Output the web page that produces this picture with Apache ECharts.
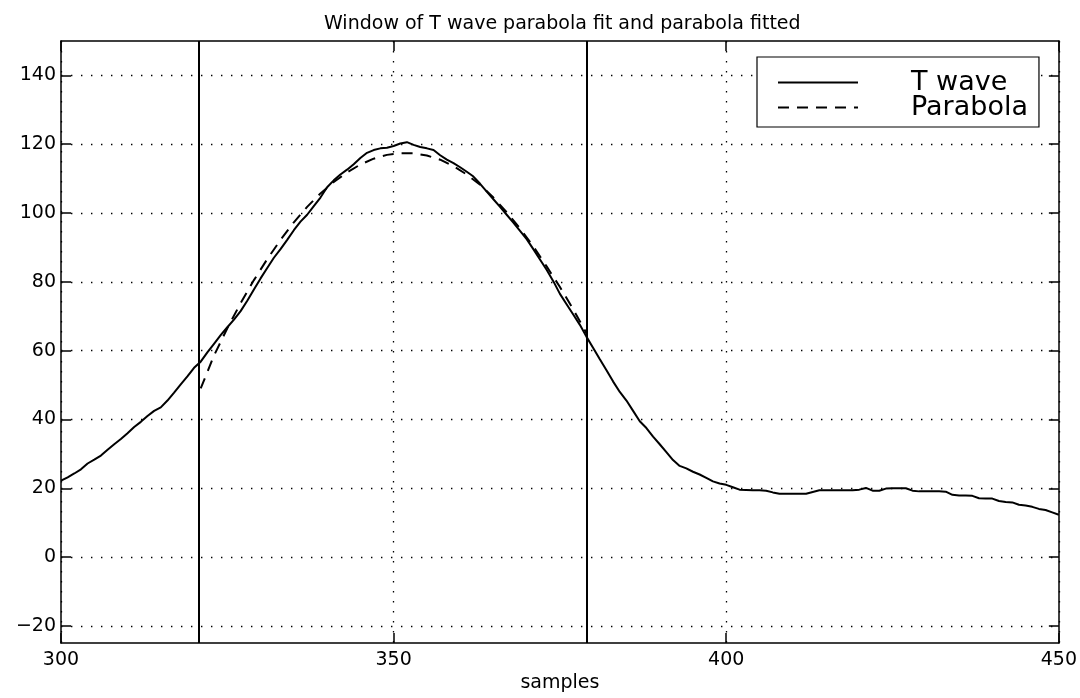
<!DOCTYPE html>
<html>
<head>
<meta charset="utf-8">
<script src="https://cdn.jsdelivr.net/npm/echarts@6/dist/echarts.min.js"></script>
<style>html,body{margin:0;padding:0;background:#fff;}#c{width:1080px;height:698px;}</style>
</head>
<body>
<div id="c"></div>
<script>
// ---- data ----
const titleText = 'Window of T wave parabola fit and parabola fitted';
const xName = 'samples';
const seriesNames = ['T wave', 'Parabola'];
const xTicks = [300, 350, 400, 450];
const yTicks = [-20, 0, 20, 40, 60, 80, 100, 120, 140];
const windowBounds = [320.7, 379.1];

// T wave, one value per sample starting at sample 300
const tWaveStart = 300;
const tWave = [
  22.2, 23.2, 24.3, 25.5, 27.2, 28.3, 29.5, 31.2, 32.8, 34.3,
  36.0, 37.8, 39.3, 41.0, 42.5, 43.5, 45.5, 47.8, 50.2, 52.5,
  55.0, 56.8, 59.5, 62.0, 64.5, 66.8, 69.0, 71.5, 74.5, 77.8,
  81.0, 84.0, 87.0, 89.5, 92.2, 95.0, 97.5, 99.5, 102.0, 104.5,
  107.5, 109.5, 111.2, 112.6, 114.2, 116.0, 117.5, 118.3, 118.8, 119.0,
  119.5, 120.2, 120.6, 119.8, 119.2, 118.8, 118.3, 116.8, 115.5, 114.5,
  113.3, 112.0, 110.6, 108.5, 106.2, 104.0, 101.8, 99.5, 97.2, 94.8,
  92.4, 89.5, 86.5, 83.5, 80.2, 76.5, 73.5, 70.5, 67.5, 64.0,
  60.8, 57.5, 54.3, 51.0, 48.0, 45.5, 42.5, 39.5, 37.5, 35.0,
  32.8, 30.5, 28.2, 26.5, 25.8, 24.8, 24.0, 23.0, 22.0, 21.4,
  21.0, 20.3, 19.6, 19.5, 19.4, 19.4, 19.3, 18.8, 18.4, 18.4,
  18.4, 18.4, 18.4, 18.9, 19.4, 19.4, 19.4, 19.4, 19.4, 19.4,
  19.6, 20.1, 19.3, 19.3, 19.9, 20.0, 20.0, 20.0, 19.3, 19.1,
  19.1, 19.1, 19.1, 19.0, 18.1, 17.9, 17.9, 17.8, 17.1, 17.0,
  17.0, 16.3, 16.0, 15.9, 15.2, 15.0, 14.6, 14.0, 13.7, 13.0,
  12.3
];

// Parabola (dashed), read at these samples
const parX = [321, 323, 325, 327, 329, 331, 333, 335, 337, 339, 341, 343, 345, 347, 349,
              351, 353, 355, 357, 359, 361, 363, 365, 367, 369, 371, 373, 375, 377, 379];
const parY = [49.0, 58.6, 66.5, 73.8, 80.5, 86.6, 92.2, 97.3, 101.8, 105.7, 109.0, 111.8, 114.1, 115.8, 116.9,
              117.4, 117.4, 116.7, 115.5, 113.6, 111.2, 108.2, 104.5, 100.2, 95.5, 90.3, 84.5, 78.5, 72.0, 65.0];

// ---- chart ----
const FONT = 'DejaVu Sans';
const chart = echarts.init(document.getElementById('c'), null, {renderer: 'canvas'});
const fmt = v => String(v).replace('-', '\u2212');
const dotted = {color: '#000', width: 1.3, type: [1.4, 8.6]};

const option = {
  animation: false,
  backgroundColor: '#fff',
  title: {
    text: titleText,
    left: 319, top: 10,
    textStyle: {fontFamily: FONT, fontSize: 19, fontWeight: 'normal', color: '#000'}
  },
  legend: {
    data: seriesNames,
    orient: 'vertical',
    left: 757, top: 57,
    padding: [12, 11, 6, 20],
    itemWidth: 80, itemHeight: 24, itemGap: -2,
    backgroundColor: '#fff',
    borderColor: '#000', borderWidth: 1.2, borderRadius: 0,
    itemStyle: {opacity: 0, color: 'transparent', borderWidth: 0},
    textStyle: {fontFamily: FONT, fontSize: 27, color: '#000', padding: [0, 0, 0, 48]}
  },
  grid: {left: 61, right: 18, top: 41, bottom: 43, containLabel: false},
  xAxis: [{
    type: 'value', min: 300, max: 450, interval: 50,
    name: xName, nameLocation: 'middle', nameGap: 25,
    nameTextStyle: {fontFamily: FONT, fontSize: 19, color: '#000'},
    axisLine: {show: true, onZero: false, lineStyle: {color: '#000', width: 1.5}},
    axisTick: {show: true, inside: true, length: 10, lineStyle: {color: '#000', width: 1.5}},
    axisLabel: {fontFamily: FONT, fontSize: 19, color: '#000', margin: 7, formatter: fmt, showMinLabel: true, showMaxLabel: true},
    splitLine: {show: true, lineStyle: dotted}
  }, {
    type: 'value', min: 300, max: 450, interval: 50, position: 'top',
    axisLine: {show: true, onZero: false, lineStyle: {color: '#000', width: 1.5}},
    axisTick: {show: true, inside: true, length: 10, lineStyle: {color: '#000', width: 1.5}},
    axisLabel: {show: false}, splitLine: {show: false}
  }],
  yAxis: [{
    type: 'value', min: -25, max: 150,
    axisLine: {show: true, onZero: false, lineStyle: {color: '#000', width: 1.5}},
    axisTick: {show: true, inside: true, length: 10, customValues: yTicks, lineStyle: {color: '#000', width: 1.5}},
    axisLabel: {fontFamily: FONT, fontSize: 19, color: '#000', margin: 5, customValues: yTicks, formatter: fmt},
    splitLine: {show: true, lineStyle: dotted}
  }, {
    type: 'value', min: -25, max: 150, position: 'right',
    axisLine: {show: true, onZero: false, lineStyle: {color: '#000', width: 1.5}},
    axisTick: {show: true, inside: true, length: 10, customValues: yTicks, lineStyle: {color: '#000', width: 1.5}},
    axisLabel: {show: false}, splitLine: {show: false}
  }],
  series: [{
    name: seriesNames[0], type: 'line', xAxisIndex: 0, yAxisIndex: 0,
    data: tWave.map((v, i) => [tWaveStart + i, v]),
    symbol: 'none', lineStyle: {color: '#000', width: 2}, itemStyle: {color: '#000'},
    z: 5,
    markLine: {
      silent: true, symbol: ['none', 'none'], label: {show: false},
      lineStyle: {color: '#000', width: 2, type: 'solid'},
      data: windowBounds.map(b => ({xAxis: b}))
    }
  }, {
    name: seriesNames[1], type: 'line', xAxisIndex: 0, yAxisIndex: 0,
    data: parX.map((x, i) => [x, parY[i]]),
    symbol: 'none', lineStyle: {color: '#000', width: 2, type: [11, 8]}, itemStyle: {color: '#000'},
    z: 4
  }]
};
chart.setOption(option);
</script>
</body>
</html>
